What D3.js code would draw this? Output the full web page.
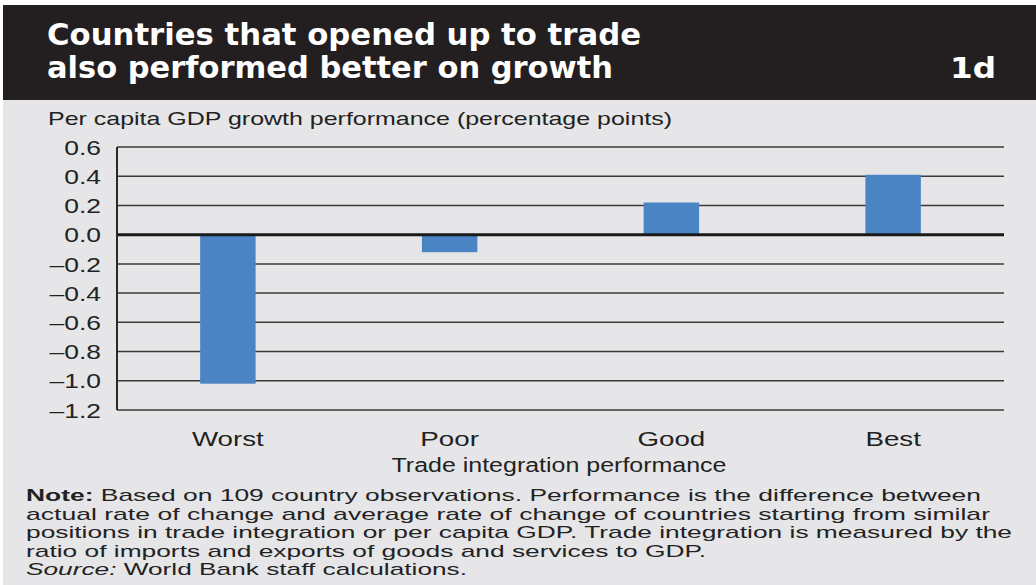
<!DOCTYPE html>
<html lang="en">
<head>
<meta charset="UTF-8">
<script src="https://cdn.jsdelivr.net/npm/d3@7"></script>
<style>
  body { margin: 0; background: #fff; }
  svg { display: block; }
  .tick text { font-family: "Liberation Sans", Arial, sans-serif; }
</style>
</head>
<body>
<script>
// chart values
var categories = ["Worst", "Poor", "Good", "Best"];
var values = [-1.02, -0.12, 0.22, 0.41];
var yTicks = [0.6, 0.4, 0.2, 0.0, -0.2, -0.4, -0.6, -0.8, -1.0, -1.2];

var titleLines = ["Countries that opened up to trade", "also performed better on growth"];
var noteLines = [
  "Based on 109 country observations. Performance is the difference between",
  "actual rate of change and average rate of change of countries starting from similar",
  "positions in trade integration or per capita GDP. Trade integration is measured by the",
  "ratio of imports and exports of goods and services to GDP."
];

var width = 1036, height = 585;
var margin = {left: 117, right: 32, top: 147, bottom: 175};

// the original print is stretched sideways, so widen text by this much
var stretch = 1.32;
function widen(sel) {
  sel.each(function() {
    var len = this.getComputedTextLength();
    d3.select(this)
      .attr("textLength", len * stretch)
      .attr("lengthAdjust", "spacingAndGlyphs");
  });
}

var svg = d3.select("body").append("svg")
  .attr("width", width)
  .attr("height", height);

// panel background and title bar
svg.append("rect").attr("x", 3).attr("y", 5).attr("width", width - 3).attr("height", height - 5)
  .attr("fill", "#e6e6e8");
svg.append("rect").attr("x", 3).attr("y", 5).attr("width", width - 3).attr("height", 95)
  .attr("fill", "#231f20");

var titleFont = "'Liberation Sans Narrow', 'DejaVu Sans Condensed', Arial, sans-serif";
svg.selectAll(".title").data(titleLines).enter().append("text")
  .attr("class", "title")
  .attr("x", 47)
  .attr("y", function(d, i) { return 45 + i * 33; })
  .attr("fill", "#fff")
  .style("font-family", titleFont)
  .style("font-weight", "bold")
  .style("font-size", "30px")
  .attr("textLength", function(d, i) { return i == 0 ? 594 : 566; })
  .attr("lengthAdjust", "spacingAndGlyphs")
  .text(function(d) { return d; });

svg.append("text")
  .attr("x", 996).attr("y", 78)
  .attr("text-anchor", "end")
  .attr("fill", "#fff")
  .style("font-family", "'DejaVu Sans', sans-serif")
  .style("font-weight", "bold")
  .style("font-size", "29px")
  .attr("textLength", 46)
  .attr("lengthAdjust", "spacingAndGlyphs")
  .text("1d");

var bodyFont = "'Liberation Sans', Arial, sans-serif";

// y axis title
svg.append("text")
  .attr("x", 48).attr("y", 125)
  .attr("fill", "#222")
  .style("font-family", bodyFont)
  .style("font-size", "19px")
  .attr("textLength", 624)
  .attr("lengthAdjust", "spacingAndGlyphs")
  .text("Per capita GDP growth performance (percentage points)");

// scales
var x = d3.scaleBand()
  .domain(categories)
  .range([margin.left, width - margin.right])
  .paddingInner(0.75)
  .paddingOuter(0.375);

var y = d3.scaleLinear()
  .domain([-1.2, 0.6])
  .range([height - margin.bottom, margin.top]);

// gridlines
svg.append("g").selectAll("line").data(yTicks).enter().append("line")
  .attr("x1", margin.left).attr("x2", width - margin.right)
  .attr("y1", function(d) { return y(d); })
  .attr("y2", function(d) { return y(d); })
  .attr("stroke", "#3a3a3a")
  .attr("stroke-width", 1.5);

// y axis labels
var yAxis = svg.append("g")
  .attr("transform", "translate(" + (margin.left - 13) + ",0)")
  .call(d3.axisLeft(y).tickValues(yTicks).tickSize(0)
    .tickFormat(function(d) { return d3.format(".1f")(d).replace("−", "–"); }));
yAxis.select(".domain").remove();
yAxis.selectAll("text")
  .attr("fill", "#222")
  .style("font-size", "20px")
  .attr("dy", "0.36em")
  .call(widen);

// bars
svg.append("g").selectAll("rect").data(values).enter().append("rect")
  .attr("x", function(d, i) { return x(categories[i]); })
  .attr("width", x.bandwidth())
  .attr("y", function(d) { return y(Math.max(0, d)); })
  .attr("height", function(d) { return Math.abs(y(d) - y(0)); })
  .attr("fill", "#4a84c4");

// zero line and vertical axis line
svg.append("line")
  .attr("x1", margin.left).attr("x2", width - margin.right)
  .attr("y1", y(0)).attr("y2", y(0))
  .attr("stroke", "#1a1a1a").attr("stroke-width", 3);
svg.append("line")
  .attr("x1", margin.left).attr("x2", margin.left)
  .attr("y1", y(0.6)).attr("y2", y(-1.2))
  .attr("stroke", "#2a2a2a").attr("stroke-width", 2);

// category labels
var xAxis = svg.append("g")
  .attr("transform", "translate(0," + (y(-1.2) + 18) + ")")
  .call(d3.axisBottom(x).tickSize(0));
xAxis.select(".domain").remove();
xAxis.selectAll("text")
  .attr("fill", "#222")
  .style("font-size", "21px")
  .attr("dy", "0.71em")
  .call(widen);

svg.append("text")
  .attr("x", 559).attr("y", 472)
  .attr("text-anchor", "middle")
  .attr("fill", "#222")
  .style("font-family", bodyFont)
  .style("font-size", "20px")
  .attr("textLength", 335)
  .attr("lengthAdjust", "spacingAndGlyphs")
  .text("Trade integration performance");

// note block
var noteWidths = [955, 964, 986, 680];
var note = svg.append("g").style("font-family", bodyFont).style("font-size", "17px").attr("fill", "#222");
note.selectAll("text").data(noteLines).enter().append("text")
  .attr("x", 26)
  .attr("y", function(d, i) { return 501 + i * 18.5; })
  .attr("textLength", function(d, i) { return noteWidths[i]; })
  .attr("lengthAdjust", "spacingAndGlyphs")
  .each(function(d, i) {
    var t = d3.select(this);
    if (i == 0) {
      t.append("tspan").style("font-weight", "bold").text("Note: ");
    }
    t.append("tspan").text(d);
  });

var src = note.append("text")
  .attr("x", 26).attr("y", 501 + 4 * 18.5)
  .attr("textLength", 441)
  .attr("lengthAdjust", "spacingAndGlyphs");
src.append("tspan").style("font-style", "italic").text("Source:");
src.append("tspan").text(" World Bank staff calculations.");
</script>
</body>
</html>
